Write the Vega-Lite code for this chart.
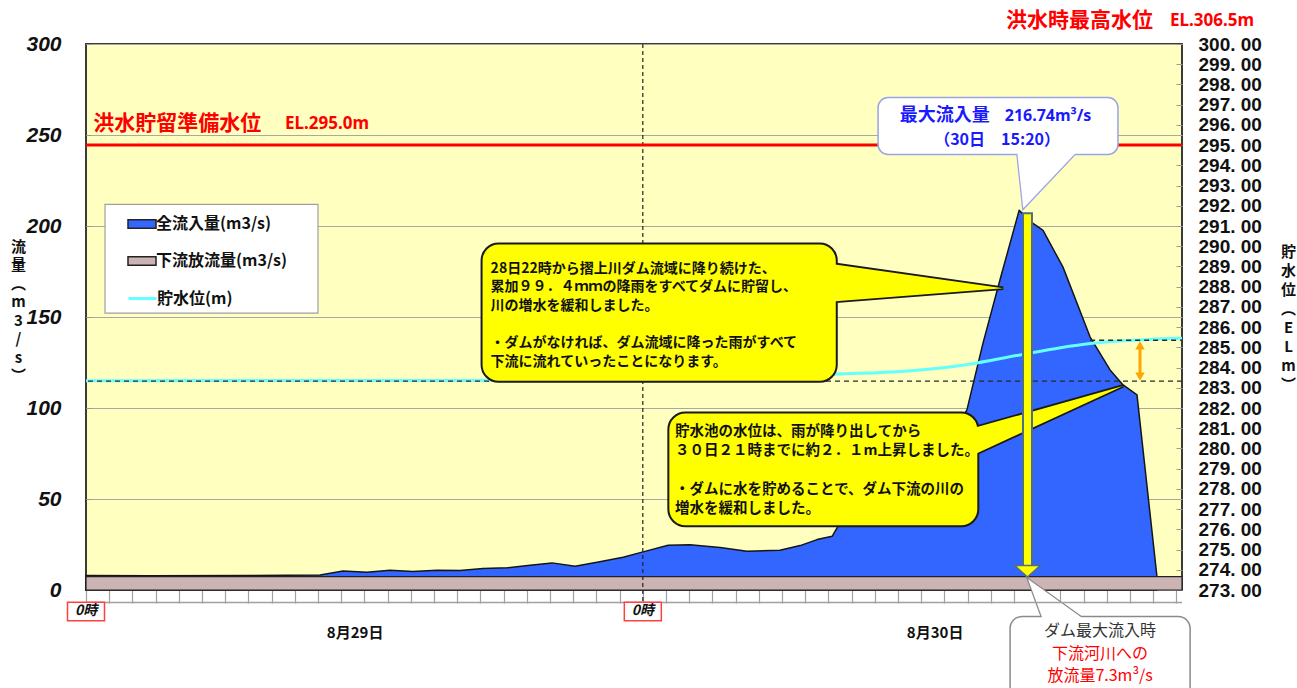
{
"$schema": "https://vega.github.io/schema/vega-lite/v6.json",
"width": 1096, "height": 546,
"autosize": {"type": "none"},
"padding": {"left": 86, "top": 44, "right": 115, "bottom": 98},
"background": "#ffffff",
"config": {"view": {"fill": "#FFFFC0", "stroke": "#3a3a3a", "strokeWidth": 2}, "font": "Noto Sans CJK JP"},
"datasets": {
 "inflow": [{"h":0,"q":8.0},{"h":2.76,"q":7.8},{"h":7.07,"q":8.0},{"h":10.09,"q":8.2},{"h":11.08,"q":10.4},{"h":12.11,"q":9.8},{"h":13.1,"q":10.9},{"h":14.09,"q":10.2},{"h":15.13,"q":10.9},{"h":16.12,"q":10.7},{"h":17.11,"q":11.8},{"h":18.15,"q":12.2},{"h":19.14,"q":13.6},{"h":20.09,"q":14.9},{"h":21.08,"q":13.0},{"h":22.03,"q":15.2},{"h":23.15,"q":18.0},{"h":23.97,"q":20.8},{"h":25.09,"q":24.6},{"h":26.03,"q":24.9},{"h":27.33,"q":23.3},{"h":28.49,"q":21.3},{"h":29.91,"q":21.8},{"h":30.78,"q":24.4},{"h":31.51,"q":27.7},{"h":32.16,"q":29.5},{"h":32.41,"q":35.0},{"h":33.79,"q":44.1},{"h":35.52,"q":57.0},{"h":36.81,"q":75.0},{"h":37.97,"q":99.0},{"h":38.66,"q":135.5},{"h":39.39,"q":170.2},{"h":40.22,"q":208.6},{"h":40.82,"q":201.5},{"h":41.25,"q":197.6},{"h":42.11,"q":177.4},{"h":43.28,"q":139.0},{"h":44.14,"q":120.9},{"h":44.7,"q":112.7},{"h":45.3,"q":107.2},{"h":46.16,"q":7.4}],
 "release": [{"h":0,"q":7.3},{"h":47.24,"q":7.3}],
 "level": [{"h":0,"el":283.35},{"h":16,"el":283.36},{"h":22,"el":283.4},{"h":28,"el":283.5},{"h":32.4,"el":283.68},{"h":35.3,"el":283.82},{"h":38,"el":284.15},{"h":40.2,"el":284.61},{"h":42,"el":284.98},{"h":43.3,"el":285.19},{"h":45.15,"el":285.35},{"h":46.75,"el":285.44},{"h":47.24,"el":285.45}],
 "tailA": [{"h":31.9,"lo":158.2,"hi":179.6},{"h":39.53,"lo":165.8,"hi":165.8}],
 "tailB": [{"h":38.1,"lo":73.4,"hi":88.4},{"h":44.7,"lo":112.1,"hi":112.1}],
 "tailC": [{"q":241.5,"l":40.13,"r":42.76},{"q":209.7,"l":40.4,"r":40.4}],
 "tailD": [{"q":-16.5,"l":41.25,"r":43.06},{"q":6.0,"l":40.6,"r":40.6}],
 "dayStarts": [{"h":0,"label":"0時"},{"h":24,"label":"0時"}],
 "days": [{"h":11.6,"label":"8月29日"},{"h":36.6,"label":"8月30日"}]
},
"layer": [
 {"layer": [
  {"data": {"name": "inflow"},
   "mark": {"type": "area", "stroke": "#151515", "strokeWidth": 1.5, "strokeJoin": "round"},
   "encoding": {
    "x": {"field": "h", "type": "quantitative", "scale": {"domain": [0, 47.24], "nice": false, "zero": false},
          "axis": {"values": [0,1,2,3,4,5,6,7,8,9,10,11,12,13,14,15,16,17,18,19,20,21,22,23,24,25,26,27,28,29,30,31,32,33,34,35,36,37,38,39,40,41,42,43,44,45,46,47],
                   "tickCount": 100, "ticks": true, "tickSize": 13, "tickColor": "#a0a0a0", "tickWidth": 1.2, "labels": false, "domain": false, "grid": false, "title": null}},
    "y": {"field": "q", "type": "quantitative", "stack": null, "scale": {"domain": [0, 300], "nice": false},
          "axis": {"orient": "left", "values": [0,50,100,150,200,250,300], "tickCount": 20, "grid": true, "gridColor": "#a8a8a8", "gridWidth": 1,
                   "domain": false, "ticks": true, "tickSize": -5, "tickColor": "#999999", "labelPadding": 30,
                   "labelFont": "Liberation Sans Narrow, Liberation Sans, sans-serif", "labelFontSize": 21, "labelFontWeight": "bold", "labelFontStyle": "italic",
                   "labelColor": "#111111", "labelOverlap": false, "labelFlush": false,
                   "title": ["流","量","︵","m","3","/","s","︶"], "titleAngle": 0, "titleX": -68, "titleY": 195, "titleAlign": "center", "titleBaseline": "top",
                   "titleFont": "Noto Sans CJK JP", "titleFontSize": 15, "titleFontWeight": "bold", "titleLineHeight": 18.5, "titleColor": "#111111"}},
    "fill": {"datum": "全流入量(m3/s)", "type": "nominal",
             "scale": {"domain": ["全流入量(m3/s)", "下流放流量(m3/s)"], "range": ["#3366FF", "#CDB4B4"]},
             "legend": {"orient": "none", "legendX": 19, "legendY": 160, "title": null,
                        "padding": 5, "rowPadding": 14, "symbolOffset": 17, "symbolSize": 784, "labelOffset": -1,
                        "symbolType": "M-1,-0.3L1,-0.3L1,0.3L-1,0.3Z", "symbolStrokeColor": "#222222", "symbolStrokeWidth": 1.5, "symbolOpacity": 1,
                        "labelFont": "Noto Sans CJK JP", "labelFontSize": 16, "labelFontWeight": "bold", "labelColor": "#111111"}}
   }},
  {"data": {"name": "release"},
   "mark": {"type": "area", "stroke": "#222222", "strokeWidth": 1.2},
   "encoding": {
    "x": {"field": "h", "type": "quantitative"},
    "y": {"field": "q", "type": "quantitative", "stack": null},
    "fill": {"datum": "下流放流量(m3/s)", "type": "nominal", "legend": null}}},
  {"data": {"values": [{}]},
   "mark": {"type": "rule", "color": "#222222", "strokeDash": [4, 3], "strokeWidth": 1.2},
   "encoding": {"x": {"datum": 24, "type": "quantitative"}, "y": {"datum": 300, "type": "quantitative"}, "y2": {"datum": -6.9}}},
  {"data": {"values": [{}]},
   "mark": {"type": "rect", "fill": "#ffffff", "stroke": "#a0a0a0", "strokeWidth": 1.2},
   "encoding": {"x": {"datum": 0.82, "type": "quantitative"}, "x2": {"datum": 10.0}, "y": {"datum": 211.9, "type": "quantitative"}, "y2": {"datum": 152.1}}}
 ]},
 {"layer": [
  {"data": {"values": [{}]},
   "mark": {"type": "rule", "color": "#FF0000", "strokeWidth": 3},
   "encoding": {"y": {"datum": 295, "type": "quantitative"}}},
  {"data": {"name": "level"},
   "mark": {"type": "line", "strokeWidth": 3, "interpolate": "monotone"},
   "encoding": {
    "x": {"field": "h", "type": "quantitative"},
    "y": {"field": "el", "type": "quantitative", "scale": {"domain": [273, 300], "nice": false, "zero": false},
          "axis": {"orient": "right", "values": [273,274,275,276,277,278,279,280,281,282,283,284,285,286,287,288,289,290,291,292,293,294,295,296,297,298,299,300],
                   "tickCount": 100, "grid": false, "domain": false, "ticks": true, "tickSize": -6, "tickColor": "#999999", "labelPadding": 22,
                   "labelFont": "Liberation Sans Narrow, Liberation Sans, sans-serif", "labelFontSize": 19, "labelFontWeight": "bold", "labelColor": "#111111",
                   "labelOverlap": false, "labelFlush": false, "labelExpr": "replace(format(datum.value, '.2f'), '.', '. ')",
                   "title": ["貯","水","位","︵","E","L","　","m","︶"], "titleAngle": 0, "titleX": 106, "titleY": 200, "titleAlign": "center", "titleBaseline": "top",
                   "titleFont": "Noto Sans CJK JP", "titleFontSize": 15, "titleFontWeight": "bold", "titleLineHeight": 19, "titleColor": "#111111"}},
    "stroke": {"datum": "貯水位(m)", "type": "nominal",
               "scale": {"domain": ["貯水位(m)"], "range": ["#66FFFF"]},
               "legend": {"orient": "none", "legendX": 19, "legendY": 234, "title": null,
                          "padding": 5, "symbolOffset": 17, "symbolSize": 784, "labelOffset": -1,
                          "symbolType": "stroke", "symbolStrokeWidth": 3, "symbolOpacity": 1,
                          "labelFont": "Noto Sans CJK JP", "labelFontSize": 16, "labelFontWeight": "bold", "labelColor": "#111111"}}}},
  {"data": {"values": [{}]},
   "mark": {"type": "rule", "color": "#2a2a2a", "strokeDash": [5, 4], "strokeWidth": 1.3},
   "encoding": {"y": {"datum": 283.33, "type": "quantitative"}}},
  {"data": {"values": [{}]},
   "mark": {"type": "rule", "color": "#2a2a2a", "strokeDash": [5, 4], "strokeWidth": 1.3},
   "encoding": {"x": {"datum": 43.28, "type": "quantitative"}, "x2": {"datum": 47.24}, "y": {"datum": 285.35, "type": "quantitative"}}},
  {"data": {"values": [{}]},
   "mark": {"type": "rule", "color": "#FFA500", "strokeWidth": 3},
   "encoding": {"x": {"datum": 45.43, "type": "quantitative"}, "y": {"datum": 283.6, "type": "quantitative"}, "y2": {"datum": 285.05}}},
  {"data": {"values": [{}]},
   "mark": {"type": "point", "shape": "triangle-up", "size": 90, "filled": true, "color": "#FFA500", "opacity": 1},
   "encoding": {"x": {"datum": 45.43, "type": "quantitative"}, "y": {"datum": 285.1, "type": "quantitative"}}},
  {"data": {"values": [{}]},
   "mark": {"type": "point", "shape": "triangle-down", "size": 90, "filled": true, "color": "#FFA500", "opacity": 1},
   "encoding": {"x": {"datum": 45.43, "type": "quantitative"}, "y": {"datum": 283.55, "type": "quantitative"}}}
 ]},
 {"layer": [
  {"data": {"values": [{}]},
   "mark": {"type": "text", "text": "洪水貯留準備水位", "align": "left", "baseline": "middle", "font": "Noto Sans CJK JP", "fontSize": 21, "fontWeight": "bold", "color": "#FF0000"},
   "encoding": {"x": {"datum": 0.31, "type": "quantitative"}, "y": {"datum": 256.3, "type": "quantitative", "scale": {"domain": [0, 300], "nice": false}, "axis": null}}},
  {"data": {"values": [{}]},
   "mark": {"type": "text", "text": "EL.295.0m", "align": "left", "baseline": "middle", "font": "Noto Sans", "fontSize": 17, "fontWeight": "bold", "color": "#FF0000"},
   "encoding": {"x": {"datum": 8.58, "type": "quantitative"}, "y": {"datum": 256.3, "type": "quantitative", "axis": null}}},
  {"data": {"values": [{}]},
   "mark": {"type": "text", "text": "洪水時最高水位", "align": "right", "baseline": "middle", "font": "Noto Sans CJK JP", "fontSize": 21, "fontWeight": "bold", "color": "#FF0000"},
   "encoding": {"x": {"datum": 45.99, "type": "quantitative"}, "y": {"datum": 312.4, "type": "quantitative", "axis": null}}},
  {"data": {"values": [{}]},
   "mark": {"type": "text", "text": "EL.306.5m", "align": "left", "baseline": "middle", "font": "Noto Sans", "fontSize": 17, "fontWeight": "bold", "color": "#FF0000"},
   "encoding": {"x": {"datum": 46.72, "type": "quantitative"}, "y": {"datum": 312.4, "type": "quantitative", "axis": null}}},

  {"data": {"name": "tailA"},
   "mark": {"type": "area", "fill": "#FFFF00", "stroke": "#1a1a1a", "strokeWidth": 3.5},
   "encoding": {"x": {"field": "h", "type": "quantitative"}, "y": {"field": "lo", "type": "quantitative", "stack": null, "axis": null}, "y2": {"field": "hi"}}},
  {"data": {"values": [{}]},
   "mark": {"type": "rect", "fill": "#FFFF00", "stroke": "#1a1a1a", "strokeWidth": 2, "cornerRadius": 17},
   "encoding": {"x": {"datum": 17.05, "type": "quantitative"}, "x2": {"datum": 32.36}, "y": {"datum": 190.4, "type": "quantitative", "axis": null}, "y2": {"datum": 114.4}}},
  {"data": {"name": "tailA"},
   "mark": {"type": "area", "fill": "#FFFF00", "strokeWidth": 0},
   "encoding": {"x": {"field": "h", "type": "quantitative"}, "y": {"field": "lo", "type": "quantitative", "stack": null, "axis": null}, "y2": {"field": "hi"}}},
  {"data": {"values": [{}]},
   "mark": {"type": "text", "text": ["28日22時から摺上川ダム流域に降り続けた、", "累加９９．４ｍｍの降雨をすべてダムに貯留し、", "川の増水を緩和しました。"],
            "align": "left", "baseline": "middle", "font": "Noto Sans CJK JP", "fontSize": 14, "fontWeight": "bold", "lineHeight": 18.7, "color": "#111111"},
   "encoding": {"x": {"datum": 17.44, "type": "quantitative"}, "y": {"datum": 176.6, "type": "quantitative", "axis": null}}},
  {"data": {"values": [{}]},
   "mark": {"type": "text", "text": ["・ダムがなければ、ダム流域に降った雨がすべて", "下流に流れていったことになります。"],
            "align": "left", "baseline": "middle", "font": "Noto Sans CJK JP", "fontSize": 14, "fontWeight": "bold", "lineHeight": 18.7, "color": "#111111"},
   "encoding": {"x": {"datum": 17.44, "type": "quantitative"}, "y": {"datum": 135.5, "type": "quantitative", "axis": null}}},

  {"data": {"name": "tailB"},
   "mark": {"type": "area", "fill": "#FFFF00", "stroke": "#1a1a1a", "strokeWidth": 3.5},
   "encoding": {"x": {"field": "h", "type": "quantitative"}, "y": {"field": "lo", "type": "quantitative", "stack": null, "axis": null}, "y2": {"field": "hi"}}},
  {"data": {"values": [{}]},
   "mark": {"type": "rect", "fill": "#FFFF00", "stroke": "#1a1a1a", "strokeWidth": 2, "cornerRadius": 17},
   "encoding": {"x": {"datum": 25.1, "type": "quantitative"}, "x2": {"datum": 38.46}, "y": {"datum": 97.5, "type": "quantitative", "axis": null}, "y2": {"datum": 35.0}}},
  {"data": {"name": "tailB"},
   "mark": {"type": "area", "fill": "#FFFF00", "strokeWidth": 0},
   "encoding": {"x": {"field": "h", "type": "quantitative"}, "y": {"field": "lo", "type": "quantitative", "stack": null, "axis": null}, "y2": {"field": "hi"}}},
  {"data": {"values": [{}]},
   "mark": {"type": "text", "text": ["貯水池の水位は、雨が降り出してから", "３０日２１時までに約２．１m上昇しました。"],
            "align": "left", "baseline": "middle", "font": "Noto Sans CJK JP", "fontSize": 14.5, "fontWeight": "bold", "lineHeight": 19, "color": "#111111"},
   "encoding": {"x": {"datum": 25.39, "type": "quantitative"}, "y": {"datum": 86.8, "type": "quantitative", "axis": null}}},
  {"data": {"values": [{}]},
   "mark": {"type": "text", "text": ["・ダムに水を貯めることで、ダム下流の川の", "増水を緩和しました。"],
            "align": "left", "baseline": "middle", "font": "Noto Sans CJK JP", "fontSize": 14.5, "fontWeight": "bold", "lineHeight": 19, "color": "#111111"},
   "encoding": {"x": {"datum": 25.39, "type": "quantitative"}, "y": {"datum": 55.1, "type": "quantitative", "axis": null}}},

  {"data": {"name": "tailC"},
   "mark": {"type": "area", "orient": "horizontal", "fill": "#ffffff", "stroke": "#99A3E6", "strokeWidth": 2.5},
   "encoding": {"y": {"field": "q", "type": "quantitative", "axis": null}, "x": {"field": "l", "type": "quantitative", "stack": null}, "x2": {"field": "r"}}},
  {"data": {"values": [{}]},
   "mark": {"type": "rect", "fill": "#ffffff", "stroke": "#99A3E6", "strokeWidth": 1.5, "cornerRadius": 10},
   "encoding": {"x": {"datum": 34.14, "type": "quantitative"}, "x2": {"datum": 44.48}, "y": {"datum": 270.6, "type": "quantitative", "axis": null}, "y2": {"datum": 239.3}}},
  {"data": {"name": "tailC"},
   "mark": {"type": "area", "orient": "horizontal", "fill": "#ffffff", "strokeWidth": 0},
   "encoding": {"y": {"field": "q", "type": "quantitative", "axis": null}, "x": {"field": "l", "type": "quantitative", "stack": null}, "x2": {"field": "r"}}},
  {"data": {"values": [{}]},
   "mark": {"type": "text", "text": "最大流入量", "align": "right", "baseline": "middle", "font": "Noto Sans CJK JP", "fontSize": 18, "fontWeight": "bold", "color": "#1a1aff"},
   "encoding": {"x": {"datum": 38.95, "type": "quantitative"}, "y": {"datum": 260.7, "type": "quantitative", "axis": null}}},
  {"data": {"values": [{}]},
   "mark": {"type": "text", "text": "216.74m³/s", "align": "left", "baseline": "middle", "font": "Noto Sans", "fontSize": 16, "fontWeight": "bold", "color": "#1a1aff"},
   "encoding": {"x": {"datum": 39.6, "type": "quantitative"}, "y": {"datum": 260.7, "type": "quantitative", "axis": null}}},
  {"data": {"values": [{}]},
   "mark": {"type": "text", "text": "（30日　15:20）", "align": "center", "baseline": "middle", "font": "Noto Sans CJK JP", "fontSize": 16, "fontWeight": "bold", "color": "#1a1aff"},
   "encoding": {"x": {"datum": 39.27, "type": "quantitative"}, "y": {"datum": 247.0, "type": "quantitative", "axis": null}}},

  {"data": {"values": [{}]},
   "mark": {"type": "rule", "color": "#4F6E86", "strokeWidth": 11, "strokeCap": "butt"},
   "encoding": {"x": {"datum": 40.58, "type": "quantitative"}, "y": {"datum": 207.5, "type": "quantitative", "axis": null}, "y2": {"datum": 13.5}}},
  {"data": {"values": [{}]},
   "mark": {"type": "rule", "color": "#FFFF00", "strokeWidth": 7, "strokeCap": "butt"},
   "encoding": {"x": {"datum": 40.58, "type": "quantitative"}, "y": {"datum": 206.4, "type": "quantitative", "axis": null}, "y2": {"datum": 13.5}}},
  {"data": {"values": [{}]},
   "mark": {"type": "point", "shape": "M-1,-0.45L1,-0.45L0,0.45Z", "size": 676, "filled": true, "fill": "#FFFF00", "stroke": "#4F6E86", "strokeWidth": 1.5, "opacity": 1},
   "encoding": {"x": {"datum": 40.58, "type": "quantitative"}, "y": {"datum": 10.3, "type": "quantitative", "axis": null}}},

  {"data": {"name": "tailD"},
   "mark": {"type": "area", "orient": "horizontal", "fill": "#ffffff", "stroke": "#8a8a8a", "strokeWidth": 2.5},
   "encoding": {"y": {"field": "q", "type": "quantitative", "axis": null}, "x": {"field": "l", "type": "quantitative", "stack": null}, "x2": {"field": "r"}}},
  {"data": {"values": [{}]},
   "mark": {"type": "rect", "fill": "#ffffff", "stroke": "#8a8a8a", "strokeWidth": 1.5, "cornerRadius": 12},
   "encoding": {"x": {"datum": 39.83, "type": "quantitative"}, "x2": {"datum": 47.59}, "y": {"datum": -14.5, "type": "quantitative", "axis": null}, "y2": {"datum": -70}}},
  {"data": {"name": "tailD"},
   "mark": {"type": "area", "orient": "horizontal", "fill": "#ffffff", "strokeWidth": 0},
   "encoding": {"y": {"field": "q", "type": "quantitative", "axis": null}, "x": {"field": "l", "type": "quantitative", "stack": null}, "x2": {"field": "r"}}},
  {"data": {"values": [{}]},
   "mark": {"type": "text", "text": "ダム最大流入時", "align": "center", "baseline": "middle", "font": "Noto Sans CJK JP", "fontSize": 16, "color": "#333333"},
   "encoding": {"x": {"datum": 43.71, "type": "quantitative"}, "y": {"datum": -22.75, "type": "quantitative", "axis": null}}},
  {"data": {"values": [{}]},
   "mark": {"type": "text", "text": ["下流河川への", "放流量7.3m³/s"], "align": "center", "baseline": "middle", "font": "Noto Sans CJK JP", "fontSize": 16, "lineHeight": 22.5, "color": "#FF0000"},
   "encoding": {"x": {"datum": 43.71, "type": "quantitative"}, "y": {"datum": -35.0, "type": "quantitative", "axis": null}}},

  {"data": {"values": [{}]},
   "mark": {"type": "rule", "color": "#a0a0a0", "strokeWidth": 1.5},
   "encoding": {"x": {"datum": 0, "type": "quantitative"}, "x2": {"datum": 47.24}, "y": {"datum": -6.9, "type": "quantitative", "axis": null}}},
  {"data": {"name": "dayStarts"},
   "mark": {"type": "point", "shape": "M-1,-0.5L1,-0.5L1,0.5L-1,0.5Z", "size": 1369, "filled": true, "fill": "#ffffff", "stroke": "#FF4040", "strokeWidth": 1.5, "opacity": 1},
   "encoding": {"x": {"field": "h", "type": "quantitative"}, "y": {"datum": -11.8, "type": "quantitative", "axis": null}}},
  {"data": {"name": "dayStarts"},
   "mark": {"type": "text", "align": "center", "baseline": "middle", "font": "Noto Sans CJK JP", "fontSize": 14, "fontWeight": "bold", "fontStyle": "italic", "color": "#111111"},
   "encoding": {"x": {"field": "h", "type": "quantitative"}, "y": {"datum": -11.8, "type": "quantitative", "axis": null}, "text": {"field": "label"}}},
  {"data": {"name": "days"},
   "mark": {"type": "text", "align": "center", "baseline": "middle", "font": "Noto Sans CJK JP", "fontSize": 15, "fontWeight": "bold", "color": "#111111"},
   "encoding": {"x": {"field": "h", "type": "quantitative"}, "y": {"datum": -23.8, "type": "quantitative", "axis": null}, "text": {"field": "label"}}}
 ]}
],
"resolve": {"scale": {"y": "independent"}}
}
